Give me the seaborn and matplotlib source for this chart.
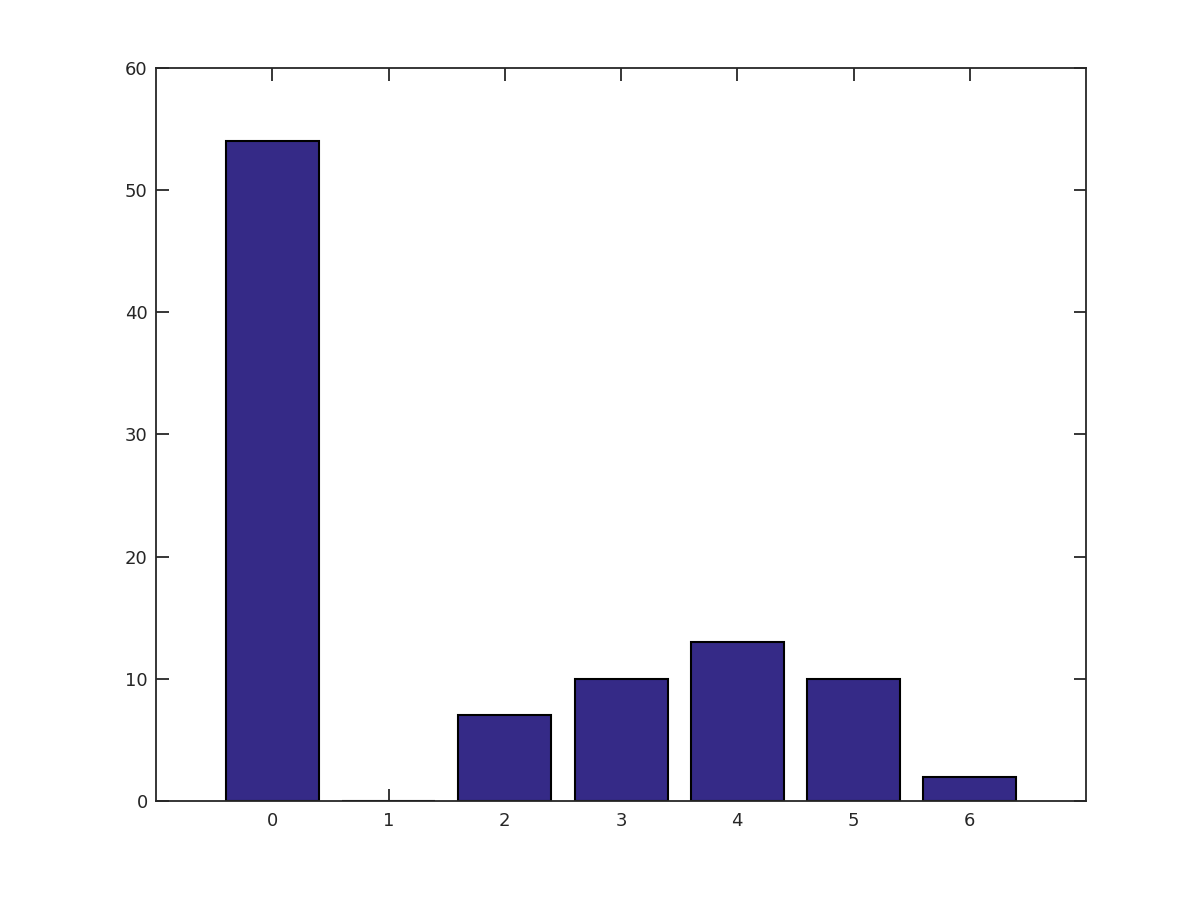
import numpy as np
import pandas as pd
import seaborn as sns
import matplotlib
matplotlib.use("Agg")
import matplotlib.pyplot as plt

# %% data
categories = [0, 1, 2, 3, 4, 5, 6]
counts = [54, 0, 7, 10, 13, 10, 2]

df = pd.DataFrame({'cat': categories, 'count': counts})

# %% plot
sns.set_style("white")
plt.rcParams['font.family'] = ['DejaVu Sans']

fig = plt.figure(figsize=(12, 9), dpi=100)
ax = fig.add_axes([0.13, 0.11, 0.775, 0.815])

sns.barplot(data=df, x='cat', y='count', color='#352a87', saturation=1,
            width=0.8, edgecolor='black', linewidth=1.5, ax=ax)

ax.set_xlim(-1, 7)
ax.set_ylim(0, 60)
ax.set_yticks(np.arange(0, 61, 10))
ax.set_xlabel('')
ax.set_ylabel('')

for s in ax.spines.values():
    s.set_color('#262626')
    s.set_linewidth(1.3)
    s.set_visible(True)

ax.tick_params(direction='in', length=9, width=1.3, color='#262626',
               labelcolor='#262626', labelsize=13, top=True, right=True,
               bottom=True, left=True)
ax.tick_params(axis='x', pad=8)
ax.tick_params(axis='y', pad=6)

plt.savefig('out.png', dpi=100)
plt.close()
